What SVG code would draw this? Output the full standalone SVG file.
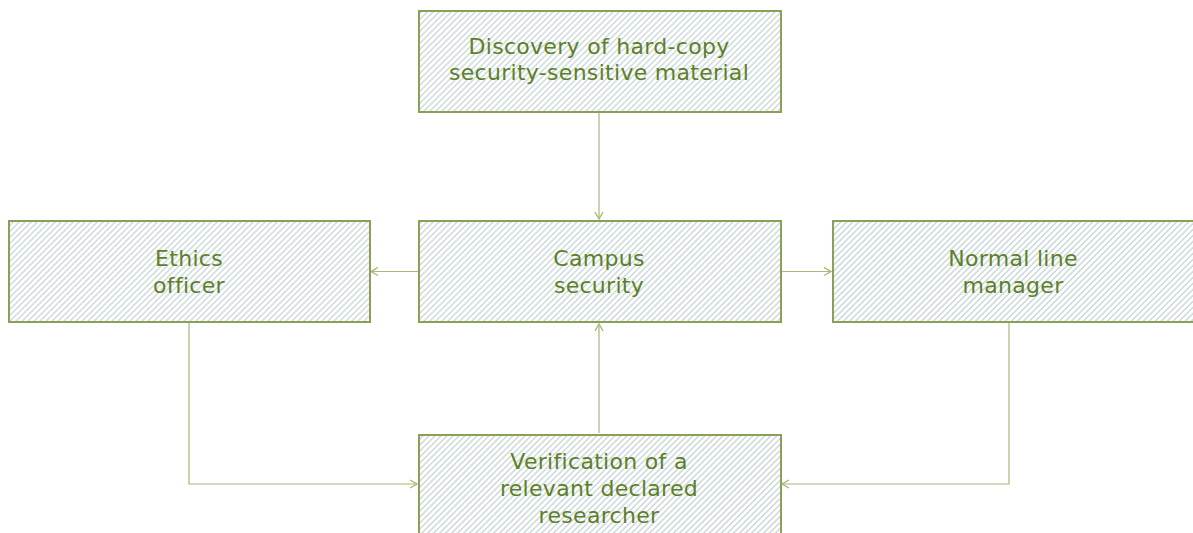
<svg xmlns="http://www.w3.org/2000/svg" width="1193" height="533" viewBox="0 0 1193 533">
<style>
.box{fill:url(#hatch);stroke:#8c9f56;stroke-width:2}
.lbl{font-family:"DejaVu Sans","Liberation Sans",sans-serif;font-size:22px;letter-spacing:0.3px;fill:#5e7f2a;text-anchor:middle}
.con{fill:none;stroke:#a7b878;stroke-width:1.2}
</style>
<defs>
<pattern id="hatch" patternUnits="userSpaceOnUse" width="4.24" height="10" patternTransform="rotate(45)">
<rect width="4.24" height="10" fill="#ffffff"/>
<line x1="1" y1="0" x2="1" y2="10" stroke="#c2d0d0" stroke-width="1.2"/>
</pattern>
<marker id="arr" viewBox="0 0 10 10" refX="9" refY="5" markerWidth="10" markerHeight="10" markerUnits="userSpaceOnUse" orient="auto">
<path d="M2,1 L9,5 L2,9" fill="none" stroke="#a7b878" stroke-width="1.4"/>
</marker>
</defs>
<g id="connectors">
<line class="con" x1="599" y1="113" x2="599" y2="219" marker-end="url(#arr)"/>
<line class="con" x1="418" y1="271.5" x2="371" y2="271.5" marker-end="url(#arr)"/>
<line class="con" x1="782" y1="271.5" x2="831" y2="271.5" marker-end="url(#arr)"/>
<line class="con" x1="599" y1="433" x2="599" y2="324" marker-end="url(#arr)"/>
<polyline class="con" points="189,323 189,484 417,484" marker-end="url(#arr)"/>
<polyline class="con" points="1009,323 1009,484 782,484" marker-end="url(#arr)"/>
</g>
<g id="discovery">
<rect class="box" x="419" y="11" width="362" height="101"/>
<text class="lbl" x="599" y="54">Discovery of hard-copy</text>
<text class="lbl" x="599" y="80">security-sensitive material</text>
</g>
<g id="ethics">
<rect class="box" x="9" y="221" width="361" height="101"/>
<text class="lbl" x="189" y="266">Ethics</text>
<text class="lbl" x="189" y="293">officer</text>
</g>
<g id="campus">
<rect class="box" x="419" y="221" width="362" height="101"/>
<text class="lbl" x="599" y="266">Campus</text>
<text class="lbl" x="599" y="293">security</text>
</g>
<g id="manager">
<rect class="box" x="833" y="221" width="370" height="101"/>
<text class="lbl" x="1013" y="266">Normal line</text>
<text class="lbl" x="1013" y="293">manager</text>
</g>
<g id="verification">
<rect class="box" x="419" y="435" width="362" height="110"/>
<text class="lbl" x="599" y="469">Verification of a</text>
<text class="lbl" x="599" y="496">relevant declared</text>
<text class="lbl" x="599" y="523">researcher</text>
</g>
</svg>
